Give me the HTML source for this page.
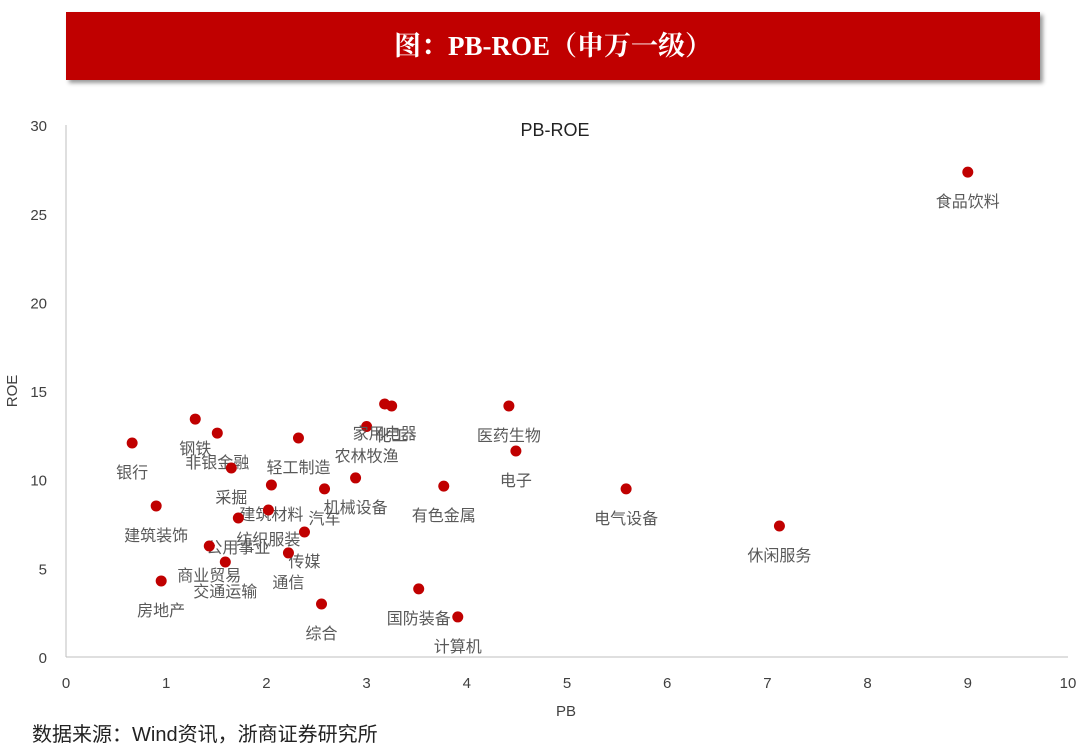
<!DOCTYPE html>
<html><head><meta charset="utf-8">
<style>
body{margin:0;width:1080px;height:754px;background:#fff;overflow:hidden;font-family:"Liberation Sans","Noto Sans CJK SC",sans-serif;}
#banner{position:absolute;left:66px;top:12px;width:974px;height:68px;background:#c00000;box-shadow:3px 3px 4px #999;color:#fff;font:bold 27px "Liberation Serif","Noto Serif CJK SC",serif;text-align:center;line-height:68px;}
#src{position:absolute;left:32px;top:718px;font-size:20px;color:#222;}
svg{position:absolute;left:0;top:0;}
</style></head><body>
<div id="banner">图：PB-ROE（申万一级）</div>
<svg id="chart" width="1080" height="754"></svg>
<div id="src">数据来源：Wind资讯，浙商证券研究所</div>
<script>
const names=["银行","钢铁","非银金融","采掘","轻工制造","农林牧渔","家用电器","化工","医药生物","电子","有色金属","机械设备","汽车","建筑材料","建筑装饰","纺织服装","公用事业","传媒","商业贸易","交通运输","通信","房地产","综合","国防装备","计算机","电气设备","休闲服务","食品饮料"];
const pb=[0.66,1.29,1.51,1.65,2.32,3.0,3.18,3.25,4.42,4.49,3.77,2.89,2.58,2.05,0.9,2.02,1.72,2.38,1.43,1.59,2.22,0.95,2.55,3.52,3.91,5.59,7.12,9.0];
const roe=[12.07,13.42,12.63,10.66,12.35,13.0,14.27,14.16,14.16,11.62,9.64,10.1,9.48,9.7,8.52,8.29,7.84,7.05,6.26,5.36,5.87,4.29,2.99,3.84,2.26,9.48,7.39,27.35];
const xTicks=[0,1,2,3,4,5,6,7,8,9,10];
const yTicks=[0,5,10,15,20,25,30];
const X=v=>66+v*100.2, Y=v=>657-v*17.73;
const svg=document.getElementById('chart');const NS="http://www.w3.org/2000/svg";
function mk(t,a,txt){const e=document.createElementNS(NS,t);for(const k in a)e.setAttribute(k,a[k]);if(txt!=null)e.textContent=txt;svg.appendChild(e);return e;}
let e;
e=mk('line',{x1:66,y1:125,x2:66,y2:657,stroke:'#bfbfbf','stroke-width':1});


e=mk('line',{x1:66,y1:657,x2:1068,y2:657,stroke:'#bfbfbf','stroke-width':1});


xTicks.forEach(v=>{e=mk('text',{x:X(v),y:688,'text-anchor':'middle','font-size':15,fill:'#404040'},v);

});
yTicks.forEach(v=>{e=mk('text',{x:47,y:Y(v)+6,'text-anchor':'end','font-size':15,fill:'#404040'},v);

});
e=mk('text',{x:566,y:716,'text-anchor':'middle','font-size':15,fill:'#404040'},'PB');


e=mk('text',{x:17,y:391,'text-anchor':'middle','font-size':15,fill:'#404040',transform:'rotate(-90 17 391)'},'ROE');


e=mk('text',{x:555,y:136,'text-anchor':'middle','font-size':18,fill:'#222'},'PB-ROE');


names.forEach((n,i)=>{
 e=mk('circle',{cx:X(pb[i]),cy:Y(roe[i]),r:5.5,fill:'#c00000'});
 
 
 e=mk('text',{x:X(pb[i]),y:Y(roe[i])+35,'text-anchor':'middle','font-size':16,fill:'#595959'},n);
 
 
});
</script>
</body></html>
